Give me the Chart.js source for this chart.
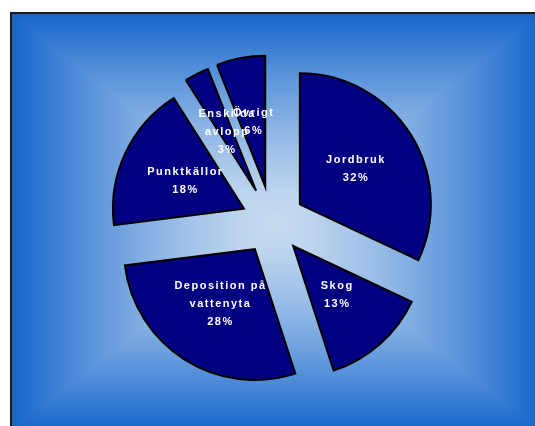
<!DOCTYPE html>
<html>
<head>
<meta charset="utf-8">
<script src="https://cdn.jsdelivr.net/npm/chart.js@4/dist/chart.umd.min.js"></script>
<style>
  html, body { margin: 0; padding: 0; background: #ffffff; }
  #wrap { width: 535px; height: 426px; }
</style>
</head>
<body>
<div id="wrap"><canvas id="pieChart" width="535" height="426"></canvas></div>
<script>
  // Slice data, clockwise from 12 o'clock
  const categories = [['Jordbruk'], ['Skog'], ['Deposition på', 'vattenyta'], ['Punktkällor'], ['Enskilda', 'avlopp'], ['Övrigt']];
  const shares = [32, 13, 28, 18, 3, 6];
  // how far each slice is pulled out from the centre (px)
  const explode = [33, 32, 32, 31, 35, 36];

  const sliceColor = '#000080';

  // Frame with a rectangular "from centre" gradient, like the old office chart
  const backgroundPlugin = {
    id: 'boxGradient',
    beforeDraw(chart) {
      const ctx = chart.ctx;
      const W = chart.width, H = chart.height;
      ctx.save();
      ctx.fillStyle = '#ffffff';
      ctx.fillRect(0, 0, W, H);

      const x0 = 11, y0 = 13, x1 = 541, y1 = 432;
      const cx = (x0 + x1) / 2, cy = (y0 + y1) / 2;
      const outer = [21, 101, 204];
      const inner = [200, 220, 241];
      const steps = 70;
      for (let i = 0; i < steps; i++) {
        const t = i / steps;
        const e = 1 - Math.pow(1 - t, 1.4);
        const c = outer.map((v, k) => Math.round(v + (inner[k] - v) * e));
        ctx.fillStyle = `rgb(${c[0]},${c[1]},${c[2]})`;
        const l = x0 + (cx - x0) * t, r = x1 - (x1 - cx) * t;
        const tp = y0 + (cy - y0) * t, b = y1 - (y1 - cy) * t;
        ctx.fillRect(l, tp, r - l, b - tp);
      }

      ctx.strokeStyle = '#1a1a1a';
      ctx.lineWidth = 2;
      ctx.beginPath();
      ctx.moveTo(11, H + 2);
      ctx.lineTo(11, 13);
      ctx.lineTo(W + 2, 13);
      ctx.stroke();
      ctx.restore();
    }
  };

  // draw each arc pushed out along its mid angle, then the labels
  const explodePlugin = {
    id: 'explodedPie',
    beforeDatasetDraw(chart, args) {
      const ctx = chart.ctx;
      const meta = args.meta;
      const total = shares.reduce((a, b) => a + b, 0);

      meta.data.forEach((arc, i) => {
        const mid = (arc.startAngle + arc.endAngle) / 2;
        const dx = Math.cos(mid) * explode[i];
        const dy = Math.sin(mid) * explode[i];
        ctx.save();
        ctx.translate(dx, dy);
        arc.draw(ctx);
        ctx.restore();
      });

      ctx.save();
      ctx.fillStyle = '#ffffff';
      ctx.font = 'bold 11px "Liberation Sans", Arial, sans-serif';
      ctx.letterSpacing = '1.5px';
      ctx.textAlign = 'center';
      ctx.textBaseline = 'middle';
      meta.data.forEach((arc, i) => {
        const mid = (arc.startAngle + arc.endAngle) / 2;
        const dist = explode[i] + arc.outerRadius * 0.5;
        const x = arc.x + Math.cos(mid) * dist;
        const y = arc.y + Math.sin(mid) * dist;
        const lines = categories[i].concat([Math.round(shares[i] / total * 100) + '%']);
        const lineH = 18;
        const top = y - (lines.length - 1) * lineH / 2;
        lines.forEach((txt, k) => ctx.fillText(txt, x + 0.75, top + k * lineH));
      });
      ctx.restore();
      return false;
    }
  };

  const ctxP = document.getElementById('pieChart').getContext('2d');
  const pieChart = new Chart(ctxP, {
    type: 'pie',
    data: {
      labels: categories,
      datasets: [{
        data: shares,
        backgroundColor: sliceColor,
        borderColor: '#000000',
        borderWidth: 2,
        borderJoinStyle: 'miter'
      }]
    },
    options: {
      responsive: false,
      maintainAspectRatio: false,
      animation: false,
      radius: 131,
      layout: { padding: { left: 10, right: 1, top: 20, bottom: 2 } },
      plugins: {
        legend: { display: false },
        tooltip: { enabled: false }
      }
    },
    plugins: [backgroundPlugin, explodePlugin]
  });
</script>
</body>
</html>
